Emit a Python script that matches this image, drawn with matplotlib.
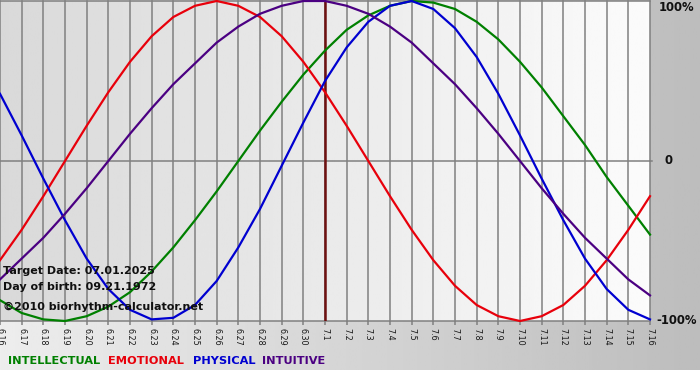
import numpy as np
import matplotlib.pyplot as plt

# values, one per day (-1 .. 1)
days = ["6.16", "6.17", "6.18", "6.19", "6.20", "6.21", "6.22", "6.23", "6.24", "6.25",
        "6.26", "6.27", "6.28", "6.29", "6.30", "7.1", "7.2", "7.3", "7.4", "7.5",
        "7.6", "7.7", "7.8", "7.9", "7.10", "7.11", "7.12", "7.13", "7.14", "7.15", "7.16"]

intellectual = [-0.87, -0.95, -0.99, -1.00, -0.97, -0.91, -0.82, -0.69, -0.54, -0.37,
                -0.19, 0.00, 0.19, 0.37, 0.54, 0.69, 0.82, 0.91, 0.97, 1.00,
                0.99, 0.95, 0.87, 0.76, 0.62, 0.46, 0.28, 0.10, -0.10, -0.28, -0.46]
emotional = [-0.62, -0.43, -0.22, 0.00, 0.22, 0.43, 0.62, 0.78, 0.90, 0.97,
             1.00, 0.97, 0.90, 0.78, 0.62, 0.43, 0.22, 0.00, -0.22, -0.43,
             -0.62, -0.78, -0.90, -0.97, -1.00, -0.97, -0.90, -0.78, -0.62, -0.43, -0.22]
physical = [0.42, 0.16, -0.11, -0.37, -0.61, -0.80, -0.93, -0.99, -0.98, -0.90,
            -0.75, -0.54, -0.30, -0.03, 0.24, 0.50, 0.71, 0.87, 0.97, 1.00,
            0.95, 0.83, 0.65, 0.42, 0.16, -0.11, -0.37, -0.61, -0.80, -0.93, -0.99]
intuitive = [-0.74, -0.61, -0.48, -0.33, -0.17, 0.00, 0.17, 0.33, 0.48, 0.61,
             0.74, 0.84, 0.92, 0.97, 1.00, 1.00, 0.97, 0.92, 0.84, 0.74,
             0.61, 0.48, 0.33, 0.17, 0.00, -0.17, -0.33, -0.48, -0.61, -0.74, -0.84]

target_day = "7.1"
target_text = "Target Date: 07.01.2025"
birth_text = "Day of birth: 09.21.1972"
copyright_text = "\u00a92010 biorhythm-calculator.net"

series = [("INTELLECTUAL", intellectual, "#008000"),
          ("EMOTIONAL", emotional, "#e8000b"),
          ("PHYSICAL", physical, "#0000d0"),
          ("INTUITIVE", intuitive, "#4b0082")]

W, H = 700, 380
fig = plt.figure(figsize=(W / 100, H / 100), dpi=100)
fig.patch.set_facecolor("white")

# grey gradient behind everything
bg = fig.add_axes([0, 10 / H, 1, 1 - 10 / H], zorder=-10)
bg.imshow(np.linspace(0.93, 0.74, 256)[None, :], cmap="gray", vmin=0, vmax=1,
          aspect="auto", extent=[0, 1, 0, 1])
bg.set_axis_off()

# plot area: x from 0 to 650 px, y from 1 to 321 px
ax = fig.add_axes([0, 1 - 321 / H, 650 / W, 320 / H])
x = np.arange(len(days))
ax.set_xlim(0, len(days) - 1)
ax.set_ylim(-1, 1)
ax.imshow(np.linspace(0.85, 0.985, 256)[None, :], cmap="gray", vmin=0, vmax=1,
          aspect="auto", extent=[0, len(days) - 1, -1.005, 1.005], zorder=0)

for xi in x:
    ax.axvline(xi, color="#808080", lw=1.1, zorder=1, clip_on=False)
for yv in (-1, 0, 1):
    ax.axhline(yv, color="#808080", lw=1.1, zorder=1, clip_on=False)
ax.plot([len(days) - 1, len(days) - 1 + 0.1], [0, 0], color="#808080", lw=1.1,
        clip_on=False)

ax.axvline(days.index(target_day), color="#6e1010", lw=1.8, zorder=2)

for name, vals, col in series:
    ax.plot(x, vals, color=col, lw=1.6, zorder=3, clip_on=False,
            solid_joinstyle="round")

for s in ax.spines.values():
    s.set_visible(False)
ax.set_yticks([])
ax.set_xticks(x)
ax.set_xticklabels(days, rotation=270, fontsize=5.8, color="#181818")
ax.tick_params(axis="x", length=3, width=1.1, color="#808080", pad=2)

# right-hand scale labels
ytr = ax.get_yaxis_transform()
ax.text(1.013, 1.0, "100%", transform=ytr, ha="left", va="top", fontsize=8.4,
        fontweight="bold", color="#101010")
ax.text(1.022, 0.0, "0", transform=ytr, ha="left", va="center", fontsize=8.4,
        fontweight="bold", color="#101010")
ax.text(1.010, -1.0, "-100%", transform=ytr, ha="left", va="center", fontsize=8.4,
        fontweight="bold", color="#101010")

# info texts
fig.text(3 / W, 1 - 271 / H, target_text, ha="left", va="center", fontsize=8,
         fontweight="bold", color="#101010")
fig.text(3 / W, 1 - 287 / H, birth_text, ha="left", va="center", fontsize=8,
         fontweight="bold", color="#101010")
fig.text(3 / W, 1 - 307 / H, copyright_text, ha="left", va="center", fontsize=8,
         fontweight="bold", color="#101010")

# legend row
legend_x = [8, 108, 193, 262]
for (name, vals, col), lx in zip(series, legend_x):
    fig.text(lx / W, 1 - 361 / H, name, ha="left", va="center", fontsize=8.2,
             fontweight="bold", color=col)

fig.savefig("out.png", dpi=100, facecolor=fig.get_facecolor())
